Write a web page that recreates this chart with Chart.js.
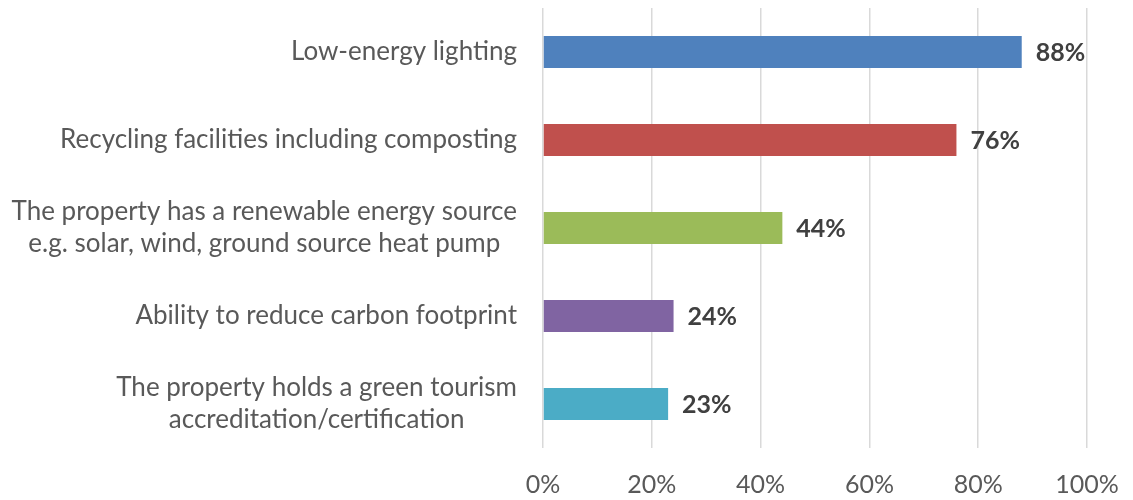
<!DOCTYPE html>
<html>
<head>
<meta charset="utf-8">
<script src="https://cdn.jsdelivr.net/npm/chart.js@4/dist/chart.umd.min.js"></script>
<style>
  html, body { margin: 0; padding: 0; background: #fff; }
  #wrap { width: 1133px; height: 500px; }
</style>
</head>
<body>
<div id="wrap"><canvas id="chart" width="1133" height="500"></canvas></div>
<script>
// Chart data
const categories = [
  ['Low-energy lighting'],
  ['Recycling facilities including composting'],
  ['The property has a renewable energy source', 'e.g. solar, wind, ground source heat pump'],
  ['Ability to reduce carbon footprint'],
  ['The property holds a green tourism', 'accreditation/certification']
];
const values = [88, 76, 44, 24, 23];
const xTicks = [0, 20, 40, 60, 80, 100];

const barColors = ['#4F81BD', '#C0504D', '#9BBB59', '#8064A2', '#4BACC6'];
const FONT = 'Lato, "Open Sans", sans-serif';
const LABEL_GAP = 26;
const LINE_H = 32;

// draws "88%" etc. just past the end of each bar
const valueLabels = {
  id: 'valueLabels',
  afterDatasetsDraw(chart) {
    const ctx = chart.ctx;
    const meta = chart.getDatasetMeta(0);
    ctx.save();
    ctx.font = 'bold 25px ' + FONT;
    ctx.fillStyle = '#404040';
    ctx.textAlign = 'left';
    ctx.textBaseline = 'middle';
    meta.data.forEach((bar, i) => {
      ctx.fillText(values[i] + '%', bar.x + 14, bar.y + 1);
    });
    ctx.restore();
  }
};

// category labels: block right-aligned to the axis, lines centred inside it (Excel style)
const categoryLabels = {
  id: 'categoryLabels',
  afterDraw(chart) {
    const ctx = chart.ctx;
    const yScale = chart.scales.y;
    const right = chart.chartArea.left - LABEL_GAP;
    ctx.save();
    ctx.font = '26px ' + FONT;
    ctx.fillStyle = '#595959';
    ctx.textAlign = 'center';
    ctx.textBaseline = 'middle';
    categories.forEach((lines, i) => {
      const widest = Math.max(...lines.map(l => ctx.measureText(l).width));
      const cx = right - widest / 2;
      const cy = yScale.getPixelForTick(i);
      const y0 = cy - (lines.length - 1) * LINE_H / 2;
      lines.forEach((line, j) => ctx.fillText(line, cx, y0 + j * LINE_H));
    });
    ctx.restore();
  }
};

new Chart(document.getElementById('chart'), {
  type: 'bar',
  data: {
    labels: categories,
    datasets: [{
      data: values,
      backgroundColor: barColors,
      borderWidth: 0,
      categoryPercentage: 1,
      barPercentage: 32 / 88
    }]
  },
  options: {
    indexAxis: 'y',
    responsive: false,
    animation: false,
    layout: { padding: { top: 8, right: 46, left: 0, bottom: 0 } },
    plugins: {
      legend: { display: false },
      tooltip: { enabled: false }
    },
    scales: {
      x: {
        min: 0,
        max: 100,
        afterBuildTicks: (scale) => {
          scale.ticks = xTicks.map(v => ({ value: v }));
        },
        afterFit: (scale) => {
          scale.height = 52;
          scale.paddingLeft = 0;
          scale.paddingRight = 0;
        },
        grid: { color: '#d9d9d9', lineWidth: 1.5, drawTicks: false },
        border: { display: false },
        ticks: {
          padding: 22,
          color: '#595959',
          font: { family: FONT, size: 25 },
          callback: v => v + '%'
        }
      },
      y: {
        afterFit: (scale) => {
          scale.width = 543;
          scale.paddingTop = 0;
          scale.paddingBottom = 0;
        },
        grid: { display: false, drawTicks: false },
        border: { display: false },
        ticks: { display: false }
      }
    }
  },
  plugins: [valueLabels, categoryLabels]
});
</script>
</body>
</html>
